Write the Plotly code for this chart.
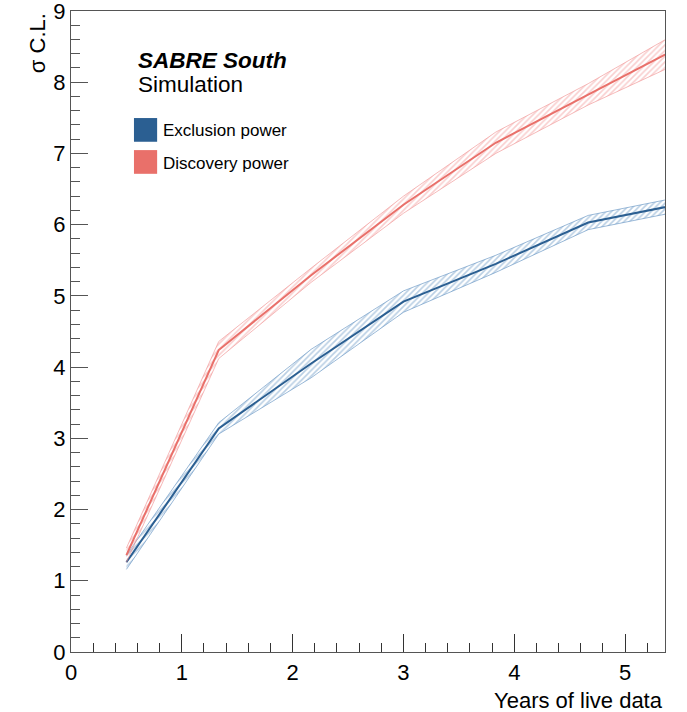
import plotly.graph_objects as go

years = [0.5, 1.333, 2.167, 3.0, 3.833, 4.667, 5.5]
exclusion = [1.26, 3.14, 4.05, 4.92, 5.45, 6.03, 6.29]
exclusion_err = [0.10, 0.08, 0.20, 0.15, 0.12, 0.10, 0.10]
discovery = [1.36, 4.24, 5.29, 6.28, 7.15, 7.83, 8.50]
discovery_err = [0.10, 0.12, 0.10, 0.12, 0.15, 0.15, 0.22]

BLUE = "#2b5f92"
RED = "#e9706a"
BLUE_BAND = "rgba(90,140,190,0.85)"
RED_BAND = "rgba(240,140,140,0.85)"

fig = go.Figure()

def add_series(x, y, e, color, band, name):
    up = [a + b for a, b in zip(y, e)]
    lo = [a - b for a, b in zip(y, e)]
    fig.add_trace(go.Scatter(
        x=x + x[::-1], y=up + lo[::-1], mode="lines", fill="toself",
        line=dict(color=band, width=0.7),
        fillcolor="rgba(255,255,255,0)",
        fillpattern=dict(shape="/", fgcolor=band, bgcolor="rgba(255,255,255,0)",
                         size=4, solidity=0.4),
        showlegend=False, hoverinfo="skip"))
    fig.add_trace(go.Scatter(x=x, y=y, mode="lines", line=dict(color=color, width=2),
                             name=name, showlegend=False))

add_series(years, exclusion, exclusion_err, BLUE, BLUE_BAND, "Exclusion power")
add_series(years, discovery, discovery_err, RED, RED_BAND, "Discovery power")

font = "Liberation Sans, Arial, sans-serif"
axis_font = dict(family=font, size=22, color="black")

fig.update_xaxes(range=[0, 5.36], showgrid=False, zeroline=False, automargin=False,
                 showline=True, linecolor="#555", linewidth=1.2, mirror=True,
                 ticks="inside", ticklen=18, tickcolor="#333", tickwidth=1.2,
                 dtick=1, tick0=0, tickfont=axis_font,
                 minor=dict(dtick=0.2, ticks="inside", ticklen=9, tickcolor="#333", tickwidth=1))
fig.update_yaxes(range=[0, 9], showgrid=False, zeroline=False, automargin=False,
                 showline=True, linecolor="#555", linewidth=1.2, mirror=True,
                 ticks="inside", ticklen=17, tickcolor="#555", tickwidth=1.2,
                 dtick=1, tick0=0, tickfont=axis_font, ticklabeloverflow="allow",
                 minor=dict(dtick=0.2, ticks="inside", ticklen=9, tickcolor="#555", tickwidth=1))

annotations = [
    dict(x=1.0, y=-0.075, xref="paper", yref="paper", xanchor="right", yanchor="middle",
         text="Years of live data", showarrow=False, font=dict(family=font, size=22, color="black")),
    dict(x=-0.057, y=1.0, xref="paper", yref="paper", xanchor="center", yanchor="top",
         text="σ C.L.", textangle=-90, showarrow=False, font=dict(family=font, size=22, color="black")),
    dict(x=0.11, y=0.923, xref="paper", yref="paper", xanchor="left", yanchor="middle",
         text="<b><i>SABRE South</i></b>", showarrow=False, font=dict(family=font, size=22.5, color="black")),
    dict(x=0.11, y=0.885, xref="paper", yref="paper", xanchor="left", yanchor="middle",
         text="Simulation", showarrow=False, font=dict(family=font, size=22.5, color="black")),
    dict(x=0.152, y=0.813, xref="paper", yref="paper", xanchor="left", yanchor="middle",
         text="Exclusion power", showarrow=False, font=dict(family=font, size=17, color="black")),
    dict(x=0.152, y=0.762, xref="paper", yref="paper", xanchor="left", yanchor="middle",
         text="Discovery power", showarrow=False, font=dict(family=font, size=17, color="black")),
]

shapes = [
    dict(type="rect", xref="paper", yref="paper", x0=0.106, x1=0.145, y0=0.796, y1=0.833,
         fillcolor=BLUE, line=dict(width=0)),
    dict(type="rect", xref="paper", yref="paper", x0=0.106, x1=0.145, y0=0.746, y1=0.783,
         fillcolor=RED, line=dict(width=0)),
]

fig.update_layout(
    width=687, height=712,
    margin=dict(l=71, r=22, t=11, b=60, autoexpand=False),
    plot_bgcolor="white", paper_bgcolor="white",
    annotations=annotations, shapes=shapes,
    showlegend=False,
)

fig.write_html("out.html", config={"displayModeBar": False},
               post_script="document.body.style.margin='0';")
